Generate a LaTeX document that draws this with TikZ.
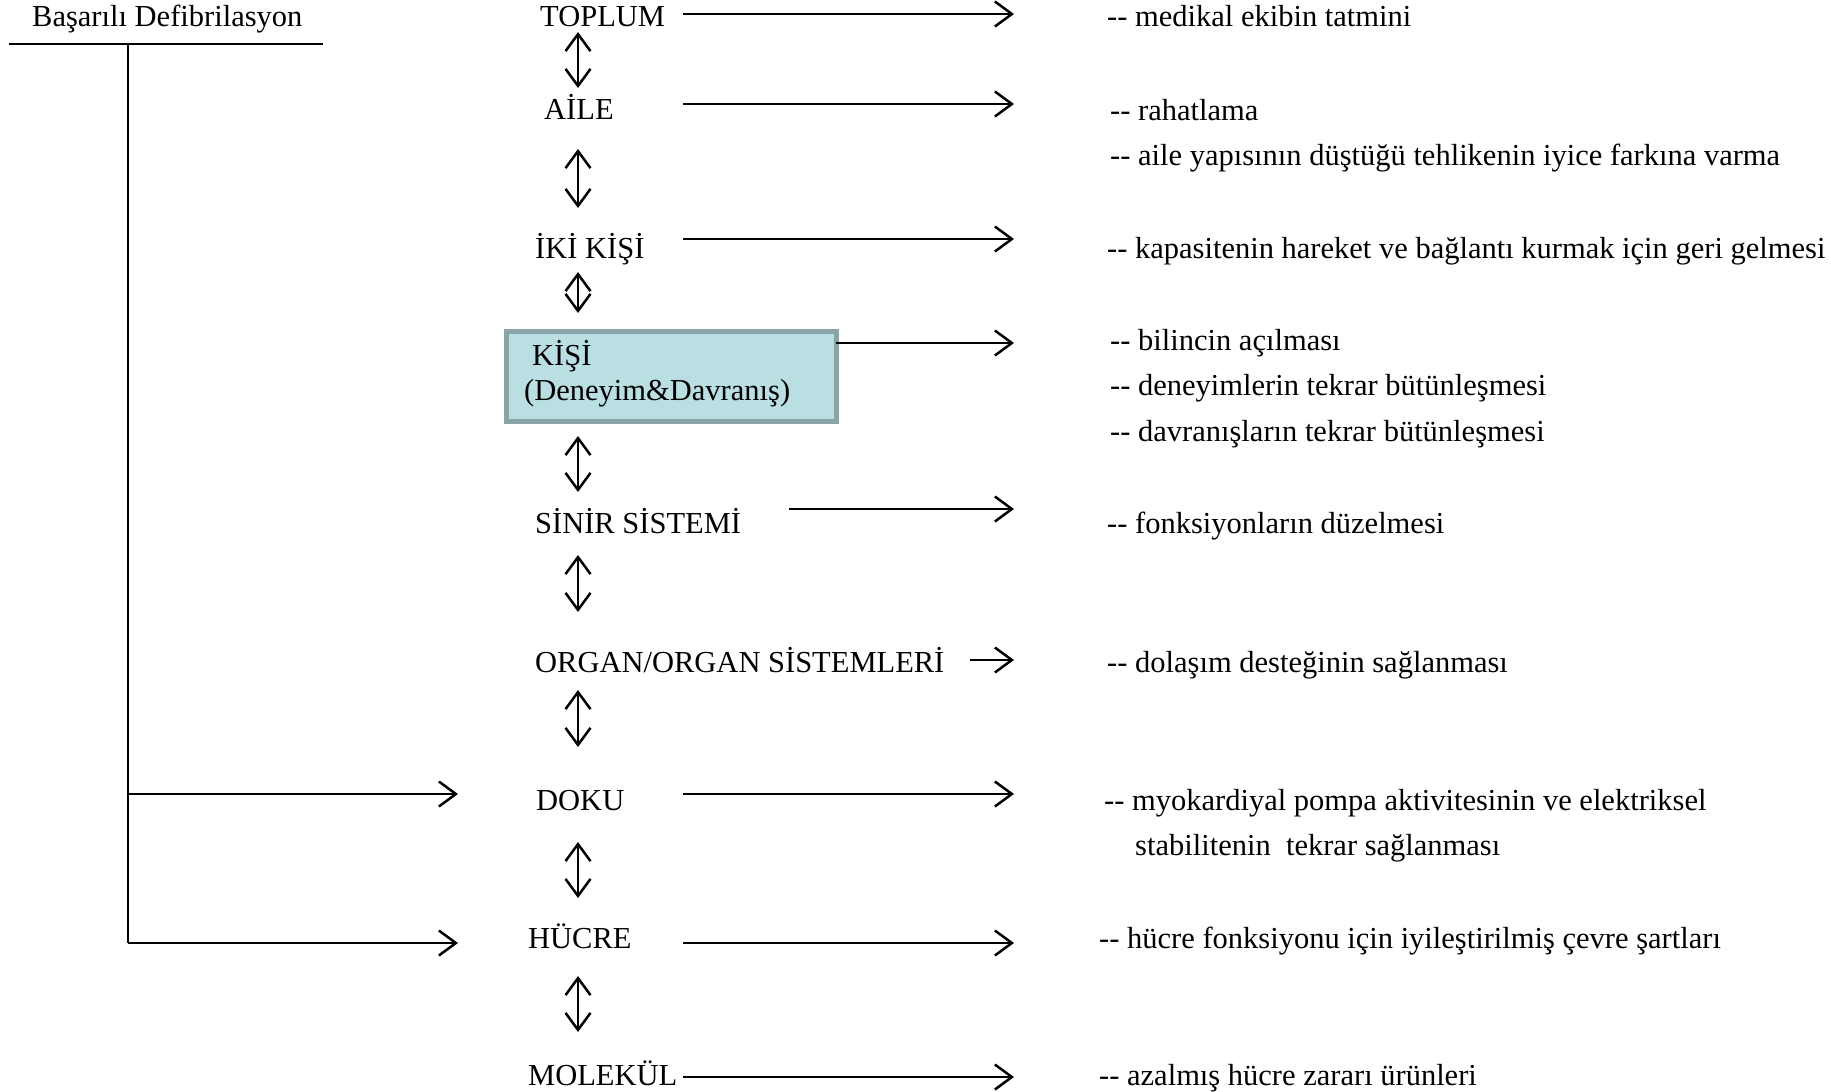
\documentclass[tikz,border=0pt]{standalone}
\usepackage{fontspec}
\setmainfont{Liberation Serif}
\usetikzlibrary{arrows.meta}
\definecolor{boxfill}{HTML}{B9DFE3}
\definecolor{boxedge}{HTML}{8AA5A8}
\newcommand{\lblfont}{\fontsize{30.5}{36}\selectfont}
% two plain hyphens, kept apart from the en-dash ligature
\newcommand{\hy}{-{}-}
\tikzset{
  lbl/.style={anchor=base west, inner sep=0pt, font=\lblfont},
  tip/.tip={Straight Barb[length=17pt,width=25pt]},
  arr/.style={line width=2.5pt, -tip},
  darr/.style={line width=2.5pt, tip-tip},
  link/.style={line width=2.5pt},
  kutu/.style={fill=boxfill, draw=boxedge, line width=4.5pt, inner sep=0pt}
}
\begin{document}
\begin{tikzpicture}[x=1pt, y=-1pt]
\useasboundingbox (0,0) rectangle (1831,1092);

% root of the tree
\node[lbl] (baslik) at (32,27) {Başarılı Defibrilasyon};
\coordinate (hl) at (9,44);
\coordinate (hr) at (323,44);
\coordinate (vt) at (128,44);
\coordinate (vd) at (128,794);
\coordinate (vh) at (128,943);
\coordinate (bd) at (458,794);
\coordinate (bh) at (458,943);
\draw[link] (hl) -- (hr);
\draw[link] (vt) -- (vh);
\draw[arr] (vd) -- (bd);
\draw[arr] (vh) -- (bh);

% levels
\node[lbl] (toplum) at (540,27) {TOPLUM};
\node[lbl] (aile) at (544,119) {AİLE};
\node[lbl] (iki) at (535,258) {İKİ KİŞİ};
\node[kutu, minimum width=330, minimum height=90, anchor=north west] (kisi) at (504,329) {};
\node[lbl] (kisiA) at (532,365) {KİŞİ};
\node[lbl] (kisiB) at (524,400) {(Deneyim\&Davranış)};
\node[lbl] (sinir) at (535,533) {SİNİR SİSTEMİ};
\node[lbl] (organ) at (535,672) {ORGAN/ORGAN SİSTEMLERİ};
\node[lbl] (doku) at (536,810) {DOKU};
\node[lbl] (hucre) at (528,948) {HÜCRE};
\node[lbl] (molekul) at (528,1085) {MOLEKÜL};

% outcomes
\node[lbl] (t1) at (1107,27) {\hy{} medikal ekibin tatmini};
\node[lbl] (t2) at (1110,120) {\hy{} rahatlama};
\node[lbl] (t3) at (1110,165) {\hy{} aile yapısının düştüğü tehlikenin iyice farkına varma};
\node[lbl] (t4) at (1107,258) {\hy{} kapasitenin hareket ve bağlantı kurmak için geri gelmesi};
\node[lbl] (t5) at (1110,350) {\hy{} bilincin açılması};
\node[lbl] (t6) at (1110,395) {\hy{} deneyimlerin tekrar bütünleşmesi};
\node[lbl] (t7) at (1110,441) {\hy{} davranışların tekrar bütünleşmesi};
\node[lbl] (t8) at (1107,533) {\hy{} fonksiyonların düzelmesi};
\node[lbl] (t9) at (1107,672) {\hy{} dolaşım desteğinin sağlanması};
\node[lbl] (t10) at (1104,810) {\hy{} myokardiyal pompa aktivitesinin ve elektriksel};
\node[lbl] (t11) at (1135,855) {stabilitenin\ \ tekrar sağlanması};
\node[lbl] (t12) at (1099,948) {\hy{} hücre fonksiyonu için iyileştirilmiş çevre şartları};
\node[lbl] (t13) at (1099,1085) {\hy{} azalmış hücre zararı ürünleri};

% arrows from each level towards its outcome
\foreach \n/\xs/\y in {toplum/683/14, aile/683/104, iki/683/239, kisi/836/343,
                       sinir/789/509, organ/970/660, doku/683/794, hucre/683/943,
                       molekul/683/1077}{
  \coordinate (\n-s) at (\xs,\y);
  \coordinate (\n-e) at (1014,\y);
  \draw[arr] (\n-s) -- (\n-e);
}

% two-way links between neighbouring levels
\foreach \i/\ya/\yb in {1/32/88, 2/149/208, 3/272/313, 4/436/492,
                        5/555/612, 6/690/747, 7/842/898, 8/976/1032}{
  \coordinate (d\i a) at (578,\ya);
  \coordinate (d\i b) at (578,\yb);
  \draw[darr] (d\i a) -- (d\i b);
}
\end{tikzpicture}
\end{document}
